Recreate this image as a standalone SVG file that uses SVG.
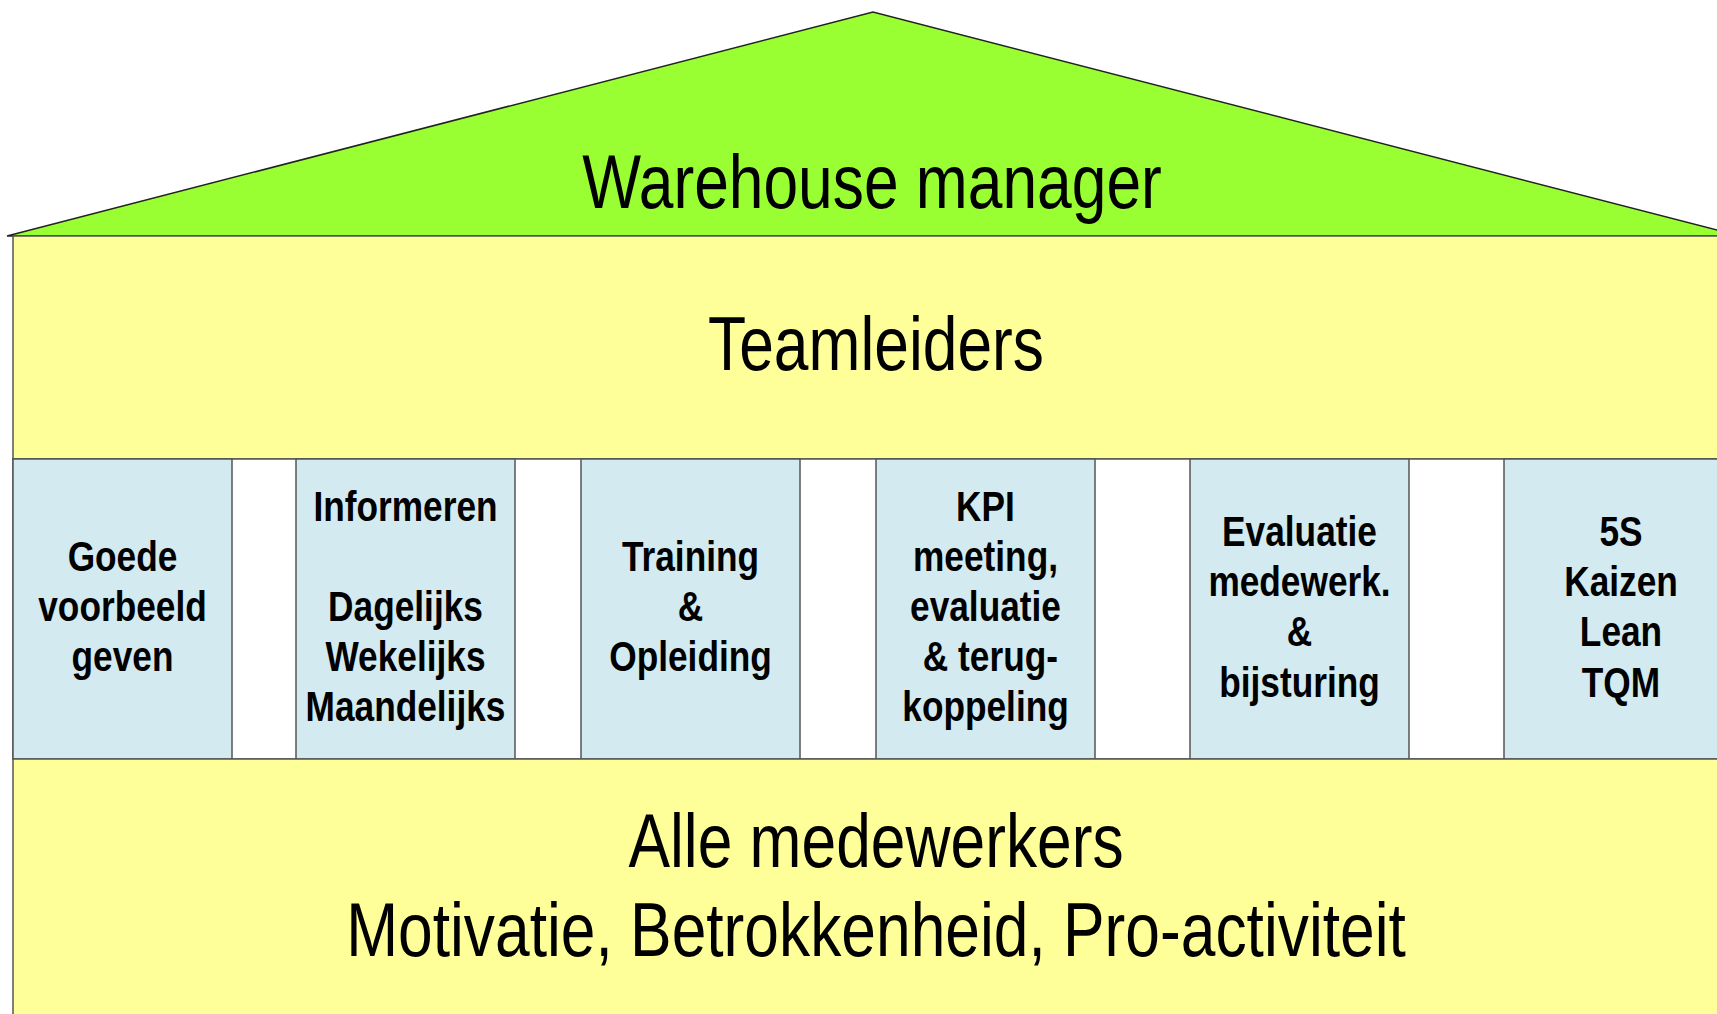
<svg xmlns="http://www.w3.org/2000/svg" width="1717" height="1014" viewBox="0 0 1717 1014">
<style>
.big{font-family:"Liberation Sans",Arial,sans-serif;font-size:76px;fill:#000;text-anchor:middle}
.pt{font-family:"Liberation Sans",Arial,sans-serif;font-size:43px;font-weight:bold;fill:#000;text-anchor:middle}
.pillar{fill:#D2EAF0;stroke:#555;stroke-width:1.5}
.band{fill:#FFFF99;stroke:#555;stroke-width:1.5}
</style>
<rect x="0" y="0" width="1717" height="1014" fill="#fff"/>
<g id="roof">
<polygon points="7,236 873,12 1740,236" fill="#99FF33" stroke="#222" stroke-width="1.5"/>
<text class="big" transform="translate(872,208) scale(0.82,1)">Warehouse manager</text>
</g>
<g id="teamleiders">
<rect class="band" x="13" y="236" width="1730" height="223"/>
<text class="big" transform="translate(876,370) scale(0.82,1)">Teamleiders</text>
</g>
<rect x="13" y="459" width="1730" height="300" fill="#fff" stroke="#555" stroke-width="1.5"/>
<g id="p1">
<rect class="pillar" x="13" y="459" width="219" height="300"/>
<g transform="translate(122.5,0) scale(0.82,1)">
<text class="pt" x="0" y="571">Goede</text>
<text class="pt" x="0" y="621">voorbeeld</text>
<text class="pt" x="0" y="671">geven</text>
</g>
</g>
<g id="p2">
<rect class="pillar" x="296" y="459" width="219" height="300"/>
<g transform="translate(405.5,0) scale(0.82,1)">
<text class="pt" x="0" y="521">Informeren</text>
<text class="pt" x="0" y="621">Dagelijks</text>
<text class="pt" x="0" y="671">Wekelijks</text>
<text class="pt" x="0" y="721">Maandelijks</text>
</g>
</g>
<g id="p3">
<rect class="pillar" x="581" y="459" width="219" height="300"/>
<g transform="translate(690.5,0) scale(0.82,1)">
<text class="pt" x="0" y="571">Training</text>
<text class="pt" x="0" y="621">&amp;</text>
<text class="pt" x="0" y="671">Opleiding</text>
</g>
</g>
<g id="p4">
<rect class="pillar" x="876" y="459" width="219" height="300"/>
<g transform="translate(985.5,0) scale(0.82,1)">
<text class="pt" x="0" y="521">KPI</text>
<text class="pt" x="0" y="571">meeting,</text>
<text class="pt" x="0" y="621">evaluatie</text>
<text class="pt" x="6" y="671">&amp; terug-</text>
<text class="pt" x="0" y="721">koppeling</text>
</g>
</g>
<g id="p5">
<rect class="pillar" x="1190" y="459" width="219" height="300"/>
<g transform="translate(1299.5,0) scale(0.82,1)">
<text class="pt" x="0" y="546">Evaluatie</text>
<text class="pt" x="0" y="596">medewerk.</text>
<text class="pt" x="0" y="646">&amp;</text>
<text class="pt" x="0" y="697">bijsturing</text>
</g>
</g>
<g id="p6">
<rect class="pillar" x="1504" y="459" width="240" height="300"/>
<g transform="translate(1621,0) scale(0.82,1)">
<text class="pt" x="0" y="546">5S</text>
<text class="pt" x="0" y="596">Kaizen</text>
<text class="pt" x="0" y="646">Lean</text>
<text class="pt" x="0" y="697">TQM</text>
</g>
</g>
<g id="medewerkers">
<rect class="band" x="13" y="759" width="1730" height="270"/>
<text class="big" transform="translate(876,867) scale(0.82,1)">Alle medewerkers</text>
<text class="big" transform="translate(876,956) scale(0.82,1)">Motivatie, Betrokkenheid, Pro-activiteit</text>
</g>
</svg>
